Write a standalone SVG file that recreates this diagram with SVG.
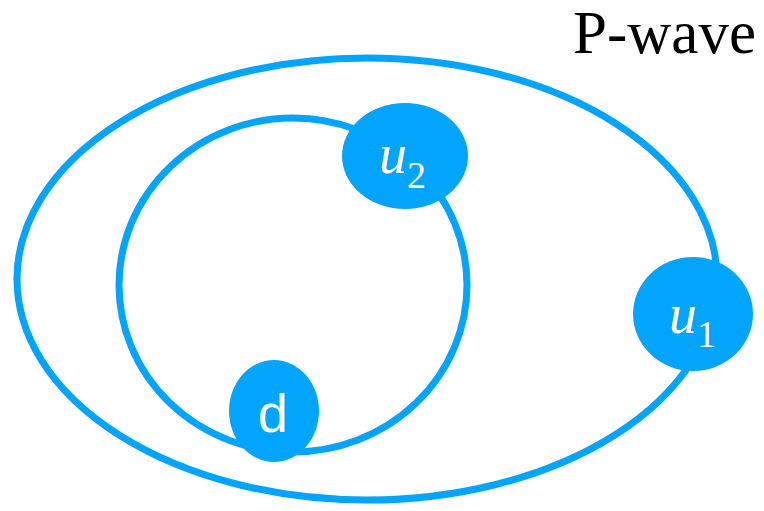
<svg xmlns="http://www.w3.org/2000/svg" width="764" height="511" viewBox="0 0 764 511">
<style>
.ring{fill:none;stroke:#03A5FC;stroke-width:7}
.node{fill:#03A5FC}
.lab{fill:#fff;font-family:"Liberation Serif",serif;font-style:italic}
</style>
<rect width="764" height="511" fill="#fff"/>
<g id="connectors">
<ellipse class="ring" cx="367" cy="279" rx="350" ry="221"/>
<ellipse class="ring" cx="293" cy="285" rx="174" ry="167"/>
</g>
<g id="u2">
<ellipse class="node" cx="405" cy="156" rx="63" ry="53"/>
<text class="lab" x="379" y="173" font-size="56">u<tspan font-style="normal" font-size="38" dy="15">2</tspan></text>
</g>
<g id="u1">
<ellipse class="node" cx="693" cy="314" rx="60" ry="57"/>
<text class="lab" x="669" y="333" font-size="56">u<tspan font-style="normal" font-size="38" dy="14">1</tspan></text>
</g>
<g id="d">
<ellipse class="node" cx="274" cy="411" rx="45" ry="51"/>
<text x="273" y="432" font-size="54" fill="#fff" text-anchor="middle" font-family="Liberation Sans,sans-serif">d</text>
</g>
<text x="756" y="53" font-size="61" fill="#000" text-anchor="end" font-family="Liberation Serif,serif">P-wave</text>
</svg>
